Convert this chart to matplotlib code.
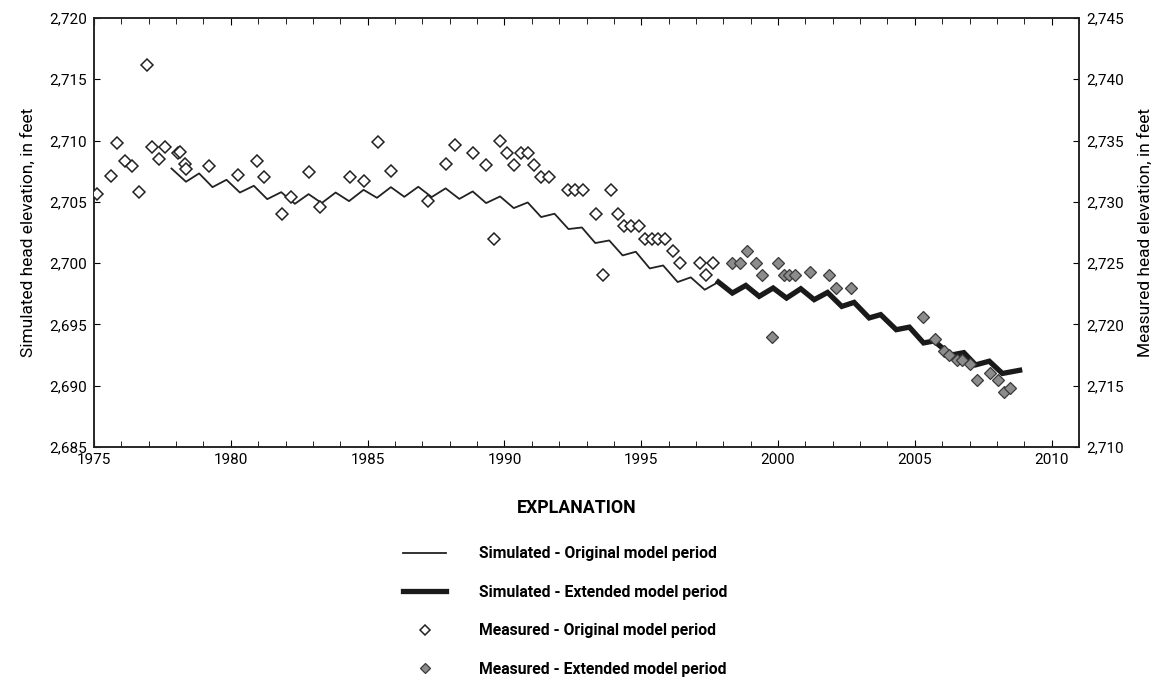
import matplotlib
matplotlib.use("Agg")
import matplotlib.pyplot as plt
from matplotlib.ticker import FuncFormatter, MultipleLocator

plt.rcParams["font.family"] = ["Roboto", "DejaVu Sans"]

# simulated heads (left axis), decimal years
sim_orig_year = [1977.83, 1978.36, 1978.84, 1979.33, 1979.84, 1980.33, 1980.84, 1981.33, 1981.84,
                 1982.34, 1982.84, 1983.32, 1983.83, 1984.32, 1984.85, 1985.34, 1985.85, 1986.34,
                 1986.85, 1987.34, 1987.85, 1988.35, 1988.84, 1989.33, 1989.84, 1990.34, 1990.85,
                 1991.34, 1991.83, 1992.34, 1992.83, 1993.32, 1993.83, 1994.32, 1994.80, 1995.31,
                 1995.80, 1996.33, 1996.81, 1997.32, 1997.82]
sim_orig_head = [2707.72, 2706.64, 2707.32, 2706.20, 2706.80, 2705.76, 2706.31, 2705.22, 2705.79,
                 2704.84, 2705.63, 2704.90, 2705.76, 2705.06, 2705.98, 2705.33, 2706.20, 2705.41,
                 2706.23, 2705.39, 2706.10, 2705.24, 2705.85, 2704.90, 2705.44, 2704.49, 2704.95,
                 2703.76, 2704.03, 2702.78, 2702.91, 2701.64, 2701.85, 2700.63, 2700.93, 2699.57,
                 2699.81, 2698.46, 2698.84, 2697.83, 2698.46]

sim_ext_year = [1997.82, 1998.33, 1998.82, 1999.31, 1999.82, 2000.31, 2000.83, 2001.32, 2001.81,
                2002.33, 2002.78, 2003.33, 2003.75, 2004.32, 2004.80, 2005.32, 2005.70, 2006.32,
                2006.79, 2007.22, 2007.72, 2008.20, 2008.83]
sim_ext_head = [2698.46, 2697.56, 2698.18, 2697.29, 2697.97, 2697.15, 2697.91, 2697.02, 2697.61,
                2696.47, 2696.80, 2695.53, 2695.80, 2694.57, 2694.78, 2693.49, 2693.65, 2692.50,
                2692.70, 2691.70, 2692.00, 2691.00, 2691.26]

# measured heads (right axis)
meas_orig_year = [1975.12, 1975.61, 1975.83, 1976.13, 1976.38, 1976.64, 1976.93, 1977.12, 1977.36,
                  1977.60, 1978.05, 1978.14, 1978.33, 1978.36, 1979.21, 1980.26, 1980.95, 1981.22,
                  1981.86, 1982.21, 1982.87, 1983.27, 1984.35, 1984.87, 1985.36, 1985.85, 1987.20,
                  1987.87, 1988.21, 1988.86, 1989.33, 1989.60, 1989.84, 1990.09, 1990.35, 1990.61,
                  1990.85, 1991.09, 1991.35, 1991.62, 1992.32, 1992.59, 1992.87, 1993.34, 1993.60,
                  1993.89, 1994.15, 1994.36, 1994.62, 1994.90, 1995.15, 1995.39, 1995.63, 1995.88,
                  1996.17, 1996.41, 1997.15, 1997.37, 1997.63]
meas_orig_head = [2730.6, 2732.1, 2734.8, 2733.3, 2732.9, 2730.8, 2741.2, 2734.5, 2733.5,
                  2734.5, 2734.0, 2734.1, 2733.1, 2732.7, 2732.9, 2732.2, 2733.35, 2732.05,
                  2729.0, 2730.4, 2732.4, 2729.6, 2732.0, 2731.7, 2734.9, 2732.55, 2730.05,
                  2733.1, 2734.65, 2734.0, 2733.0, 2727.0, 2735.0, 2734.0, 2733.0, 2734.0,
                  2734.0, 2733.0, 2732.0, 2732.0, 2731.0, 2731.0, 2731.0, 2729.0, 2724.0,
                  2731.0, 2729.0, 2728.0, 2728.0, 2728.0, 2727.0, 2727.0, 2727.0, 2727.0,
                  2726.0, 2725.0, 2725.0, 2724.0, 2725.0]

meas_ext_year = [1998.31, 1998.60, 1998.85, 1999.18, 1999.43, 1999.77, 2000.00, 2000.22, 2000.40,
                 2000.62, 2001.15, 2001.88, 2002.10, 2002.68, 2005.29, 2005.72, 2006.06, 2006.26,
                 2006.54, 2006.73, 2007.03, 2007.28, 2007.74, 2008.04, 2008.25, 2008.49]
meas_ext_head = [2725.0, 2725.0, 2726.0, 2725.0, 2724.0, 2719.0, 2725.0, 2724.0, 2724.0,
                 2724.0, 2724.3, 2724.0, 2723.0, 2723.0, 2720.6, 2718.8, 2717.8, 2717.5,
                 2717.1, 2717.1, 2716.8, 2715.5, 2716.0, 2715.5, 2714.5, 2714.8]

legend_labels = [
    "Simulated - Original model period",
    "Simulated - Extended model period",
    "Measured - Original model period",
    "Measured - Extended model period",
]


def comma(v, _pos):
    return f"{v:,.0f}"


fig = plt.figure(figsize=(11.67, 6.81), dpi=100)
ax = fig.add_axes([0.0806, 0.3436, 0.8440, 0.6300])
ax2 = ax.twinx()

line_orig, = ax.plot(sim_orig_year, sim_orig_head, color="#222222", linewidth=1.3, zorder=3)
line_ext, = ax.plot(sim_ext_year, sim_ext_head, color="#1a1a1a", linewidth=3.8,
                    solid_joinstyle="miter", zorder=3)
pts_orig, = ax2.plot(meas_orig_year, meas_orig_head, linestyle="none", marker="D", markersize=6.6,
                     markerfacecolor="white", markeredgecolor="#222222", markeredgewidth=1.1, zorder=4)
pts_ext, = ax2.plot(meas_ext_year, meas_ext_head, linestyle="none", marker="D", markersize=6.6,
                    markerfacecolor="#8c8c8c", markeredgecolor="#3a3a3a", markeredgewidth=0.9, zorder=4)

ax.set_xlim(1975, 2011)
ax.set_ylim(2685, 2720)
ax2.set_ylim(2710, 2745)
ax.xaxis.set_major_locator(MultipleLocator(5))
ax.xaxis.set_minor_locator(MultipleLocator(1))
ax.yaxis.set_major_locator(MultipleLocator(5))
ax2.yaxis.set_major_locator(MultipleLocator(5))
ax.yaxis.set_major_formatter(FuncFormatter(comma))
ax2.yaxis.set_major_formatter(FuncFormatter(comma))

ax.tick_params(axis="x", which="both", direction="in", top=True, labelsize=11, pad=4)
ax.tick_params(axis="x", which="major", length=5)
ax.tick_params(axis="x", which="minor", length=4)
ax.tick_params(axis="y", direction="in", length=4.5, labelsize=11, pad=5)
ax2.tick_params(axis="y", direction="in", length=4.5, labelsize=11, pad=5)
for a in (ax, ax2):
    for s in a.spines.values():
        s.set_linewidth(1.1)
        s.set_color("#222222")

ax.set_ylabel("Simulated head elevation, in feet", fontsize=12.5, labelpad=10)
ax2.set_ylabel("Measured head elevation, in feet", fontsize=12.5, labelpad=10)

fig.text(577 / 1167, 1 - 508 / 681, "EXPLANATION", ha="center", va="center",
         fontsize=12.8, fontweight="bold")
leg = fig.legend(
    [line_orig, line_ext, pts_orig, pts_ext], legend_labels,
    loc="upper left", bbox_to_anchor=(403 / 1167, 1 - 546 / 681),
    frameon=False, fontsize=11.3, handlelength=2.75,
    handletextpad=2.1, labelspacing=1.5, borderpad=0, borderaxespad=0,
    markerscale=0.75,
)
for t in leg.get_texts():
    t.set_fontweight("bold")

fig.savefig("out.png", dpi=100)
